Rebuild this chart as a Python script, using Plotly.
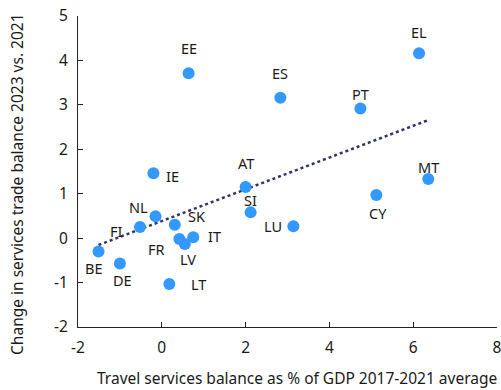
import numpy as np
import plotly.graph_objects as go

countries = ["EE", "EL", "ES", "PT", "IE", "AT", "SI", "MT", "CY", "LU",
             "NL", "FI", "SK", "BE", "DE", "FR", "LV", "IT", "LT"]
travel_balance = [0.64, 6.14, 2.83, 4.74, -0.20, 2.00, 2.12, 6.36, 5.12, 3.14,
                  -0.15, -0.52, 0.31, -1.51, -1.00, 0.42, 0.55, 0.75, 0.18]
trade_change = [3.71, 4.16, 3.16, 2.92, 1.46, 1.15, 0.58, 1.33, 0.97, 0.27,
                0.49, 0.25, 0.30, -0.30, -0.57, -0.02, -0.13, 0.02, -1.03]

x_ticks = [-2, 0, 2, 4, 6, 8]
x_tick_labels = ["-2", "0", "2", "4", "6", "8"]
y_ticks = [-2, -1, 0, 1, 2, 3, 4, 5]
y_tick_labels = ["-2", "-1", "0", "1", "2", "3", "4", "5"]

x_title = "Travel services balance as % of GDP 2017-2021 average"
y_title = "Change in services trade balance 2023 vs. 2021"

# label offsets in pixels (dx, dy) relative to each point
label_offsets = {
    "EE": (0, -25), "EL": (0, -21), "ES": (0, -25), "PT": (0, -14),
    "IE": (19, 3), "AT": (0, -24), "SI": (0, -12), "MT": (0, -12),
    "CY": (2, 18), "LU": (-20, 0), "NL": (-17, -9), "FI": (-24, 4),
    "SK": (22, -9), "BE": (-5, 17), "DE": (3, 17), "FR": (-23, 10),
    "LV": (3, 15), "IT": (21, -1), "LT": (29, 0),
}

slope, intercept = np.polyfit(travel_balance, trade_change, 1)
xs = np.array([min(travel_balance), max(travel_balance)])
ys = slope * xs + intercept

FONT = "Noto Sans"
TXT = "#1a1a1a"

fig = go.Figure()
fig.add_trace(go.Scatter(
    x=xs, y=ys, mode="lines",
    line=dict(color="#2E3468", width=2.5, dash="dot"),
    hoverinfo="skip", showlegend=False,
))
fig.add_trace(go.Scatter(
    x=travel_balance, y=trade_change, mode="markers",
    marker=dict(color="#3399FF", size=12),
    text=countries, showlegend=False,
))

for c, x, y in zip(countries, travel_balance, trade_change):
    dx, dy = label_offsets[c]
    fig.add_annotation(x=x, y=y, text=c, showarrow=False,
                       xshift=dx, yshift=-dy,
                       font=dict(family=FONT, size=14.5, color=TXT))

fig.add_annotation(xref="paper", yref="paper", x=0.523, y=-0.164,
                   xanchor="center", yanchor="middle", showarrow=False,
                   text=x_title, font=dict(family=FONT, size=15.5, color=TXT))
fig.add_annotation(xref="paper", yref="paper", x=-0.1456, y=0.46,
                   xanchor="center", yanchor="middle", showarrow=False,
                   textangle=-90,
                   text=y_title, font=dict(family=FONT, size=15.5, color=TXT))

fig.update_layout(
    width=501, height=390,
    margin=dict(l=78, r=4, t=16, b=63),
    plot_bgcolor="white", paper_bgcolor="white",
    font=dict(family=FONT, size=15.5, color=TXT),
)
fig.update_xaxes(
    range=[-2, 8], tickvals=x_ticks, ticktext=x_tick_labels,
    ticks="inside", ticklen=5, ticklabelstandoff=6,
    tickcolor="#222", showline=True, linecolor="#222", linewidth=1,
    showgrid=False, zeroline=False, automargin=False,
    ticklabeloverflow="allow",
)
fig.update_yaxes(
    range=[-2, 5], tickvals=y_ticks, ticktext=y_tick_labels,
    ticks="inside", ticklen=5, ticklabelstandoff=6,
    tickcolor="#222", showline=True, linecolor="#222", linewidth=1,
    showgrid=False, zeroline=False, automargin=False,
    ticklabeloverflow="allow",
)

fig.write_html("out.html", config={"displayModeBar": False},
               post_script="document.body.style.margin='0';document.body.style.overflow='hidden';")
